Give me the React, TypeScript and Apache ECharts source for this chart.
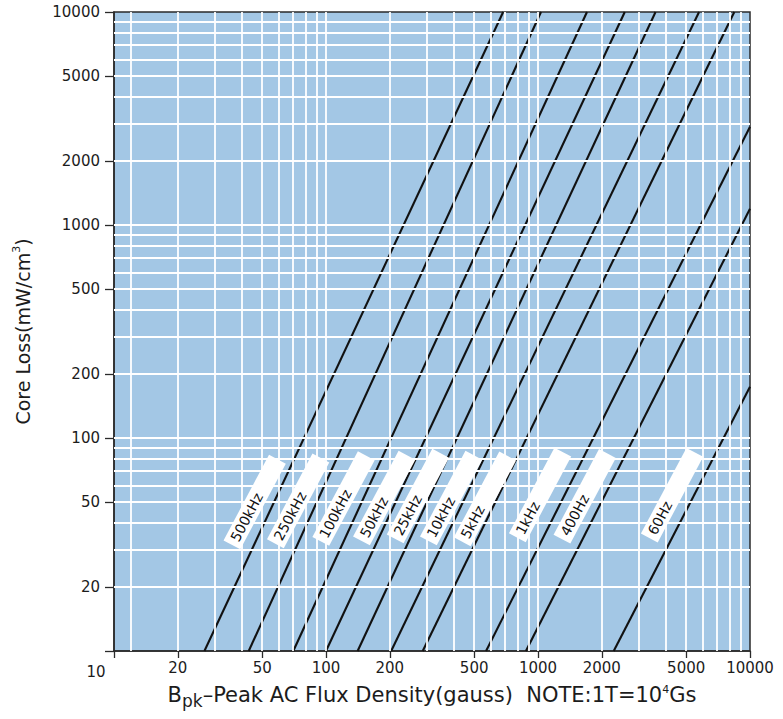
import React, { useEffect, useRef } from 'react';
import * as echarts from 'echarts';

// Frequency curves: each drawn from (startFlux, startLoss) to (endFlux, endLoss)
const freqLabels = ['500kHz', '250kHz', '100kHz', '50kHz', '25kHz', '10kHz', '5kHz', '1kHz', '400Hz', '60Hz'];
const startFlux = [26.7, 43.2, 70.1, 100, 141, 203, 286, 569, 877, 2276];
const startLoss = [10, 10, 10, 10, 10, 10, 10, 10, 10, 10];
const endFlux = [685, 1033, 1702, 2566, 3584, 5750, 8430, 10000, 10000, 10000];
const endLoss = [10000, 10000, 10000, 10000, 10000, 10000, 10000, 2894, 1193, 174];

// Where each frequency tag starts (lower-left end of the white box)
const labelFlux = [36.0, 57.7, 94.5, 147, 212, 304, 439, 799, 1297, 3350];
const labelLoss = [31.5, 31.9, 32.7, 32.9, 33.6, 32.9, 32.6, 34.0, 33.5, 33.9];

// Axis ticks / labels
const xTickValues = [10, 20, 50, 100, 200, 500, 1000, 2000, 5000, 10000];
const yTickValues = [10, 20, 50, 100, 200, 500, 1000, 2000, 5000, 10000];
const yLabelValues = [20, 50, 100, 200, 500, 1000, 2000, 5000, 10000];

// White grid lines
const xGridValues = [12, 20, 30, 40, 50, 60, 70, 80, 90, 100, 200, 300, 400, 500, 600, 700, 800, 900,
  1000, 2000, 3000, 4000, 5000, 6000, 7000, 8000, 9000];
const yGridValues = [20, 30, 40, 50, 60, 70, 80, 90, 100, 200, 300, 400, 500, 600, 700, 800, 900,
  1000, 2000, 3000, 4000, 5000, 6000, 7000, 8000, 9000];

const FONT = 'DejaVu Sans';
const TXT = '#1c1c1c';

export default function App() {
  const ref = useRef<HTMLDivElement>(null);

  useEffect(() => {
    if (!ref.current) return;
    const chart = echarts.init(ref.current, undefined, { renderer: 'svg' });

    const gridLineStyle = { color: '#ffffff', width: 1.8, type: 'solid' as const, opacity: 1 };

    const curveSeries = freqLabels.map((name, i) => ({
      name,
      type: 'line',
      data: [[startFlux[i], startLoss[i]], [endFlux[i], endLoss[i]]],
      symbol: 'none',
      lineStyle: { color: '#111111', width: 2.1 },
      z: 4,
      silent: true,
    }));

    const option: any = {
      animation: false,
      backgroundColor: '#ffffff',
      grid: {
        left: 114,
        right: 33,
        top: 12,
        bottom: 68,
        show: true,
        backgroundColor: '#a3c7e5',
        borderColor: '#2a2a2a',
        borderWidth: 1.5,
        containLabel: false,
        outerBoundsMode: 'none',
      },
      xAxis: {
        type: 'log',
        logBase: 10,
        min: 10,
        max: 10000,
        name: '{b|B}{sub|pk}{n|–Peak AC Flux Density(gauss)  NOTE:1T=10}{sup|4}{n|Gs}',
        nameLocation: 'middle',
        nameGap: 28,
        nameTextStyle: {
          fontFamily: FONT,
          fontSize: 21,
          color: TXT,
          rich: {
            b: { fontFamily: FONT, fontSize: 21, color: TXT },
            n: { fontFamily: FONT, fontSize: 21, color: TXT },
            sub: { fontFamily: FONT, fontSize: 17, color: TXT, padding: [12, 0, 0, 0] },
            sup: { fontFamily: FONT, fontSize: 11, color: TXT, padding: [0, 0, 12, 0] },
          },
        },
        axisLine: { show: true, lineStyle: { color: '#2a2a2a', width: 1.5 } },
        axisTick: { show: true, customValues: xTickValues, length: 7, lineStyle: { color: '#2a2a2a', width: 1.3 } },
        axisLabel: {
          customValues: xTickValues,
          margin: 9,
          fontFamily: FONT,
          fontSize: 15,
          color: TXT,
          formatter: (v: number) => (v === 10 ? '{l|10}' : String(v)),
          rich: {
            l: { fontFamily: FONT, fontSize: 15, color: TXT, padding: [4, 36, 0, 0] },
          },
        },
        splitLine: { show: false },
        minorTick: { show: false },
        minorSplitLine: { show: false },
      },
      yAxis: {
        type: 'log',
        logBase: 10,
        min: 10,
        max: 10000,
        name: 'Core Loss(mW/cm{sup|3})',
        nameLocation: 'middle',
        nameRotate: 90,
        nameGap: 80,
        nameTextStyle: {
          fontFamily: FONT,
          fontSize: 19,
          color: TXT,
          rich: {
            sup: { fontFamily: FONT, fontSize: 11, color: TXT, padding: [0, 0, 12, 0] },
          },
        },
        axisLine: { show: true, lineStyle: { color: '#2a2a2a', width: 1.5 } },
        axisTick: { show: true, customValues: yTickValues, length: 9, lineStyle: { color: '#2a2a2a', width: 1.3 } },
        axisLabel: {
          customValues: yLabelValues,
          margin: 14,
          fontFamily: FONT,
          fontSize: 15,
          color: TXT,
          formatter: (v: number) => String(v),
        },
        splitLine: { show: false },
        minorTick: { show: false },
        minorSplitLine: { show: false },
      },
      series: [
        {
          name: 'grid',
          type: 'line',
          data: [[10, 10]],
          symbol: 'none',
          lineStyle: { width: 0 },
          silent: true,
          z: 1,
          markLine: {
            silent: true,
            symbol: ['none', 'none'],
            label: { show: false },
            lineStyle: gridLineStyle,
            emphasis: { disabled: true },
            data: [
              ...xGridValues.map((v) => ({ xAxis: v })),
              ...yGridValues.map((v) => ({ yAxis: v })),
            ],
          },
        },
        ...curveSeries,
        {
          name: 'tags',
          type: 'scatter',
          symbolSize: 0,
          silent: true,
          z: 6,
          itemStyle: { opacity: 1 },
          data: freqLabels.map((t, i) => ({
            value: [labelFlux[i], labelLoss[i]],
            label: { formatter: t },
          })),
          label: {
            show: true,
            position: [0, 0],
            rotate: 62,
            align: 'left',
            verticalAlign: 'middle',
            width: 88,
            opacity: 1,
            fontFamily: FONT,
            fontSize: 14,
            color: '#111111',
            backgroundColor: '#ffffff',
            padding: [3, 4, 2, 5],
          },
        },
      ],
    };

    chart.setOption(option);
    return () => chart.dispose();
  }, []);

  return (
    <div
      ref={ref}
      style={{ position: 'fixed', left: 0, top: 0, width: 783, height: 719, background: '#ffffff' }}
    />
  );
}
